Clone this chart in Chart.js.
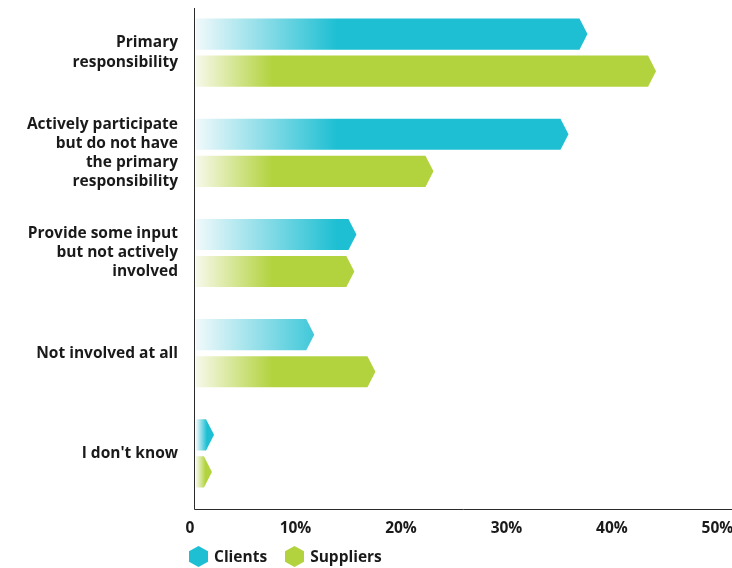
<!DOCTYPE html>
<html lang="en">
<head>
<meta charset="UTF-8">
<title>Involvement by role</title>
<script src="https://cdn.jsdelivr.net/npm/chart.js@4.4.1/dist/chart.umd.min.js"></script>
<style>
  html, body { margin: 0; padding: 0; background: #fff; }
  .wrap { position: relative; width: 732px; height: 568px; }
  #chart { position: absolute; left: 0; top: 0; }
  .legend {
    position: absolute; left: 189px; top: 545px;
    display: flex; align-items: center;
    font: 700 15.5px "Open Sans", sans-serif; color: #1a1a1a;
  }
  .legend .item { display: flex; align-items: center; margin-right: 18px; }
  .legend svg { margin-right: 6px; display: block; }
</style>
</head>
<body>
<div class="wrap">
  <canvas id="chart" width="732" height="568"></canvas>
  <div class="legend" id="legend"></div>
</div>
<script>
const categories = [
  ['Primary', 'responsibility'],
  ['Actively participate', 'but do not have', 'the primary', 'responsibility'],
  ['Provide some input', 'but not actively', 'involved'],
  'Not involved at all',
  "I don't know"
];
const seriesNames = ['Clients', 'Suppliers'];
const clients = [37.3, 35.5, 15.4, 11.4, 1.9];
const suppliers = [43.8, 22.7, 15.2, 17.2, 1.7];
const seriesColors = ['#1fbfd3', '#b2d33e'];
const fadeColors = ['#f1f9fb', '#f7f9ea'];
const fadeSpan = [13.5, 7.4];   // value where the fade reaches full colour
const xMax = 51;
const tickStep = 10;

const labelFont = { family: 'Open Sans', weight: 'bold', size: 15.5, lineHeight: 1.23 };
const textColor = '#1a1a1a';

// bars are drawn as flat-left, pointed-right arrows with a left-to-right fade
const arrowBars = {
  id: 'arrowBars',
  afterDatasetsDraw(chart) {
    const ctx = chart.ctx;
    const xs = chart.scales.x;
    chart.data.datasets.forEach((ds, i) => {
      chart.getDatasetMeta(i).data.forEach((bar, j) => {
        const { x, y, base, height } = bar.getProps(['x', 'y', 'base', 'height'], true);
        const half = height / 2;
        const left = base + 2;
        const notch = Math.min(8, x - left);
        const fadeEnd = ds.data[j] < 5 ? left + (x - left) * 0.6 : xs.getPixelForValue(fadeSpan[i]);
        const grad = ctx.createLinearGradient(left, 0, fadeEnd, 0);
        grad.addColorStop(0, fadeColors[i]);
        grad.addColorStop(1, seriesColors[i]);
        ctx.save();
        ctx.beginPath();
        ctx.moveTo(left, y - half);
        ctx.lineTo(x - notch, y - half);
        ctx.lineTo(x, y);
        ctx.lineTo(x - notch, y + half);
        ctx.lineTo(left, y + half);
        ctx.closePath();
        ctx.fillStyle = grad;
        ctx.fill();
        ctx.restore();
      });
    });
  }
};

// L-shaped axis frame, sitting a little below the category band
const axisFrame = {
  id: 'axisFrame',
  beforeDatasetsDraw(chart) {
    const ctx = chart.ctx;
    const a = chart.chartArea;
    const x0 = Math.round(chart.scales.x.getPixelForValue(0)) + 0.5;
    const yb = Math.round(a.bottom + 5.5) + 0.5;
    ctx.save();
    ctx.strokeStyle = '#2b2b2b';
    ctx.lineWidth = 1;
    ctx.beginPath();
    ctx.moveTo(x0, a.top + 5.5);
    ctx.lineTo(x0, yb);
    ctx.lineTo(chart.width, yb);
    ctx.stroke();
    ctx.restore();
  }
};

const chart = new Chart(document.getElementById('chart'), {
  type: 'bar',
  data: {
    labels: categories,
    datasets: [
      { label: seriesNames[0], data: clients, backgroundColor: 'rgba(0,0,0,0)' },
      { label: seriesNames[1], data: suppliers, backgroundColor: 'rgba(0,0,0,0)' }
    ]
  },
  options: {
    responsive: false,
    animation: false,
    indexAxis: 'y',
    categoryPercentage: 0.74,
    barPercentage: 0.84,
    layout: { padding: { top: 2.5, left: 0, right: 0, bottom: 0 } },
    plugins: { legend: { display: false }, tooltip: { enabled: false } },
    scales: {
      x: {
        min: 0,
        max: xMax,
        grid: { display: false, drawTicks: false },
        border: { display: false },
        ticks: {
          stepSize: tickStep,
          includeBounds: false,
          autoSkip: false,
          maxRotation: 0,
          padding: 16,
          labelOffset: -4,
          color: textColor,
          font: { family: 'Open Sans', weight: 'bold', size: 15.5 },
          callback: v => v === 0 ? '0' : v + '%'
        },
        afterFit(s) { s.height = 64.5; s.paddingLeft = 0; s.paddingRight = 0; }
      },
      y: {
        grid: { display: false, drawTicks: false },
        border: { display: false },
        ticks: { padding: 16, autoSkip: false, color: textColor, font: labelFont },
        afterFit(s) { s.width = 194; s.paddingTop = 0; s.paddingBottom = 0; }
      }
    }
  },
  plugins: [axisFrame, arrowBars]
});

// legend with hexagon swatches
const legend = document.getElementById('legend');
seriesNames.forEach((name, i) => {
  const item = document.createElement('div');
  item.className = 'item';
  item.innerHTML =
    '<svg width="19" height="21" viewBox="0 0 19 21"><polygon points="9.5,0 19,5.3 19,15.7 9.5,21 0,15.7 0,5.3" fill="' +
    seriesColors[i] + '"/></svg><span>' + name + '</span>';
  legend.appendChild(item);
});
</script>
</body>
</html>
